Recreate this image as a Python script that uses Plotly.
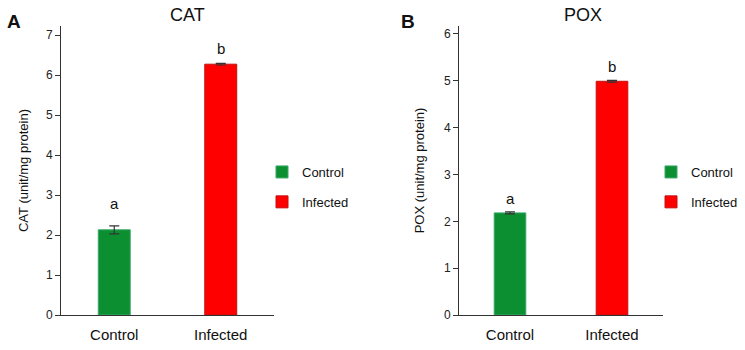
import plotly.graph_objects as go

categories = ["Control", "Infected"]
cat_values = [2.13, 6.27]
cat_errors = [0.10, 0.02]
cat_letters = ["a", "b"]
pox_values = [2.18, 4.99]
pox_errors = [0.02, 0.02]
pox_letters = ["a", "b"]
colors = ["#0b8f30", "#ff0000"]
line_colors = ["#3aa86a", "#c21010"]

W, H = 745, 350
FONT = "Liberation Sans, Arial, sans-serif"

fig = go.Figure()

for i, c in enumerate(categories):
    fig.add_trace(go.Bar(
        x=[c], y=[cat_values[i]], name=c, width=0.30, legendgroup="a" + c,
        marker=dict(color=colors[i], line=dict(color=line_colors[i], width=1)),
        error_y=dict(type="data", array=[cat_errors[i]], color="#333333", thickness=1.2, width=5),
        xaxis="x", yaxis="y", legend="legend", showlegend=True,
    ))
    fig.add_trace(go.Bar(
        x=[c], y=[pox_values[i]], name=c, width=0.31, legendgroup="b" + c,
        marker=dict(color=colors[i], line=dict(color=line_colors[i], width=1)),
        error_y=dict(type="data", array=[pox_errors[i]], color="#333333", thickness=1.2, width=5),
        xaxis="x2", yaxis="y2", legend="legend2", showlegend=True,
    ))

# significance letters
cat_shift = [12, 4]
for i, c in enumerate(categories):
    fig.add_annotation(x=c, y=cat_values[i] + cat_errors[i], text=cat_letters[i],
                       xref="x", yref="y", showarrow=False, yanchor="bottom", yshift=cat_shift[i],
                       font=dict(size=15, color="#111111", family=FONT))
    fig.add_annotation(x=c, y=pox_values[i] + pox_errors[i], text=pox_letters[i],
                       xref="x2", yref="y2", showarrow=False, yanchor="bottom", yshift=3,
                       font=dict(size=15, color="#111111", family=FONT))

ydom = [1 - 315 / H, 1 - 26 / H]
axis_common = dict(showline=True, linecolor="#333333", linewidth=1, showgrid=False,
                   zeroline=False, ticks="outside", ticklen=5, tickcolor="#333333",
                   automargin=False,
                   tickfont=dict(size=12, color="#222222", family=FONT))
xcommon = dict(showline=True, linecolor="#333333", linewidth=1, showgrid=False,
               zeroline=False, ticks="", automargin=False, ticklabelstandoff=6,
               tickfont=dict(size=15, color="#111111", family=FONT),
               type="category", range=[-0.5, 1.5])

legend_common = dict(yanchor="middle", xanchor="left",
                     font=dict(size=13, family=FONT, color="#111111"), tracegroupgap=10,
                     itemwidth=30, bgcolor="rgba(0,0,0,0)")

fig.update_layout(
    width=W, height=H, margin=dict(l=0, r=0, t=0, b=0, autoexpand=False),
    paper_bgcolor="white", plot_bgcolor="white",
    barmode="overlay",
    font=dict(family=FONT, color="#111111"),
    xaxis=dict(domain=[61 / W, 274 / W], anchor="y", **xcommon),
    yaxis=dict(domain=ydom, anchor="x", range=[0, 7.225], dtick=1,
               title=dict(text="CAT (unit/mg protein)", font=dict(size=13, family=FONT, color="#111111"), standoff=14),
               **axis_common),
    xaxis2=dict(domain=[459 / W, 663 / W], anchor="y2", **xcommon),
    yaxis2=dict(domain=ydom, anchor="x2", range=[0, 6.17], dtick=1,
                title=dict(text="POX (unit/mg protein)", font=dict(size=13, family=FONT, color="#111111"), standoff=16),
                **axis_common),
    legend=dict(x=262 / W, y=1 - 187 / H, **legend_common),
    legend2=dict(x=651 / W, y=1 - 187 / H, **legend_common),
)

for x, y, txt, size in [(187, 15, "CAT", 18), (583, 15, "POX", 18),
                        (14, 22, "<b>A</b>", 19), (408, 22, "<b>B</b>", 19)]:
    fig.add_annotation(x=x / W, y=1 - y / H, xref="paper", yref="paper", text=txt,
                       xanchor="center", yanchor="middle", showarrow=False,
                       font=dict(size=size, family=FONT, color="#111111"))

fig.write_html("out.html", config={"displayModeBar": False},
               post_script="document.body.style.margin='0';document.body.style.padding='0';")
